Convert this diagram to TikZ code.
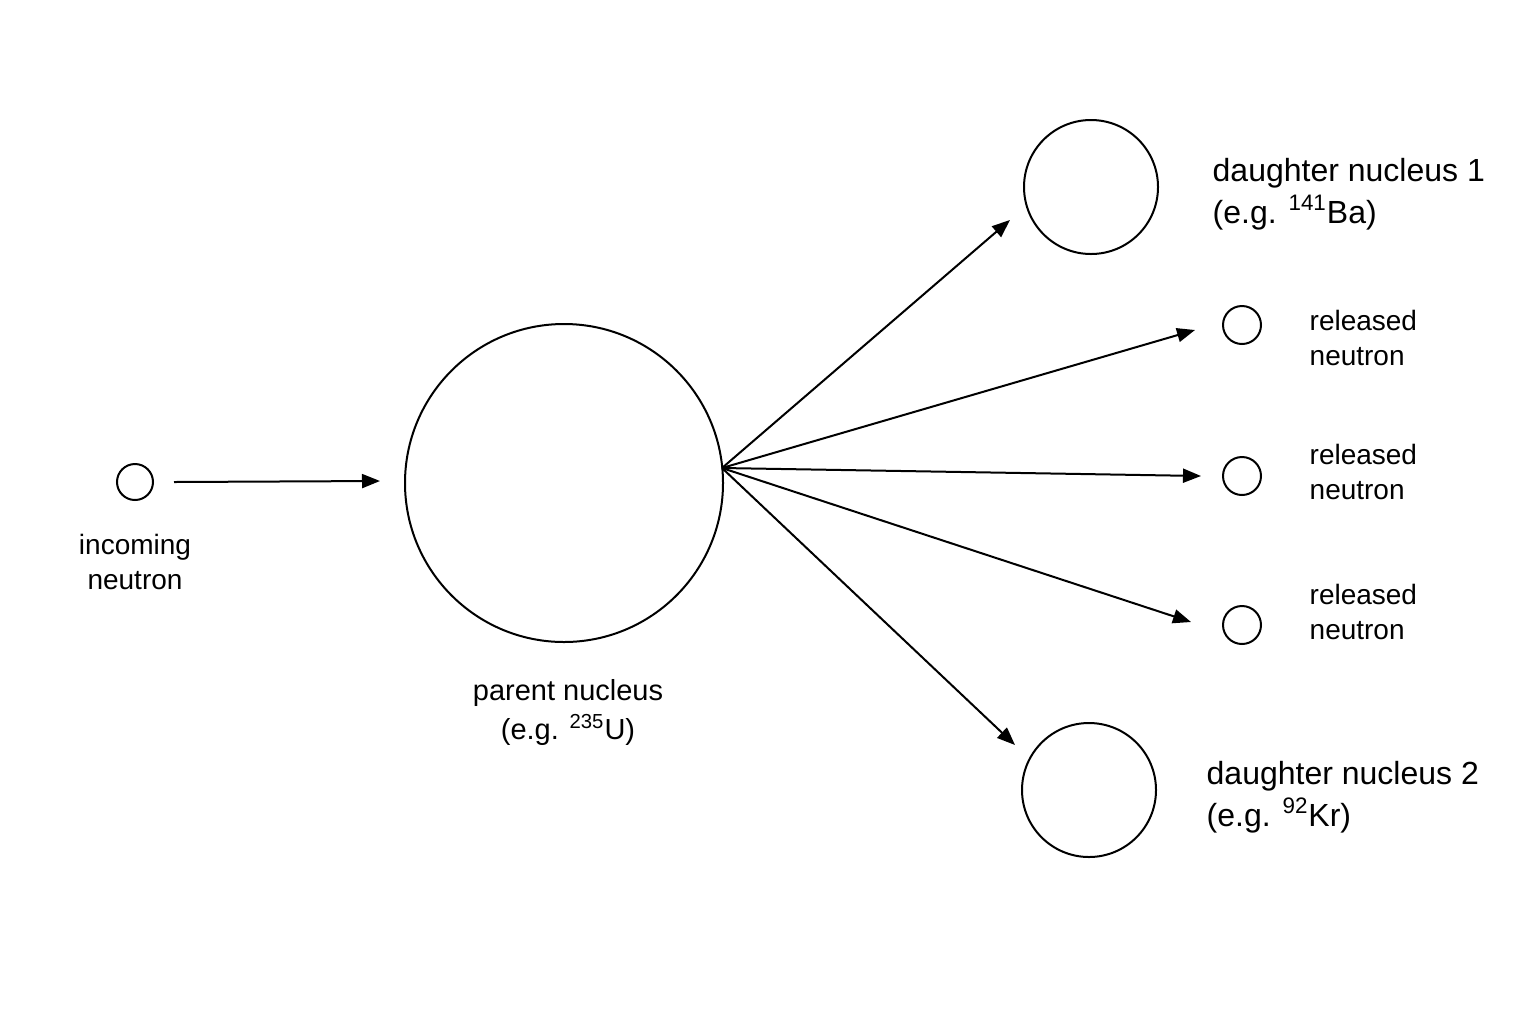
\documentclass[tikz,border=0pt]{standalone}
\usepackage{fontspec}
\setmainfont{Liberation Sans}
\usetikzlibrary{arrows.meta}
\tikzset{every picture/.style={line width=1pt}}
\tikzset{
  ball/.style={draw,circle,inner sep=0pt},
  arr/.style={-{Triangle[length=9pt,width=7pt]}},
  lbl/.style={align=left,anchor=west,font=\fontsize{15}{20}\selectfont},
  lblc/.style={align=center,font=\fontsize{14}{17.5}\selectfont},
}
\begin{document}
\begin{tikzpicture}[x=0.5pt,y=0.5pt,yscale=-1]
	\useasboundingbox (0,0) rectangle (1536,1024);

	%Nuclei
	\node [ball,minimum size=18pt] (inn) at (135,482) {};
	\node [ball,minimum size=159pt] (par) at (564,483) {};
	\node [ball,minimum size=67pt] (dn1) at (1091,187) {};
	\node [ball,minimum size=67pt] (dn2) at (1089,790) {};
	\node [ball,minimum size=19pt] (rn1) at (1242,325) {};
	\node [ball,minimum size=19pt] (rn2) at (1242,476) {};
	\node [ball,minimum size=19pt] (rn3) at (1242,625) {};

	%Arrow ends
	\coordinate (a0) at (380,481);
	\coordinate (s) at (722,468);
	\coordinate (a1) at (1010,220);
	\coordinate (a2) at (1195,330);
	\coordinate (a3) at (1201,476);
	\coordinate (a4) at (1191,622);
	\coordinate (a5) at (1015,745);

	\draw [arr] (inn.east) ++(10pt,0) -- (a0);
	\foreach \e in {a1,a2,a3,a4,a5}
		\draw [arr] (s) -- (\e);

	% Text Nodes
	\node [lblc] (tinn) at (135,562) {incoming\\neutron};
	\node [lblc,font=\fontsize{14.5}{19.5}\selectfont] (tpar) at (568,712) {parent nucleus\\(e.g. \textsuperscript{235}U)};
	\node [lbl,font=\fontsize{16}{21}\selectfont] (tdn1) at (1205,194) {daughter nucleus 1\\(e.g. \textsuperscript{141}Ba)};
	\node [lbl,font=\fontsize{16}{21}\selectfont] (tdn2) at (1199,797) {daughter nucleus 2\\(e.g. \textsuperscript{92}Kr)};
	\node [lbl,font=\fontsize{14}{17.5}\selectfont] (trn1) at (1302,338) {released\\neutron};
	\node [lbl,font=\fontsize{14}{17.5}\selectfont] (trn2) at (1302,472) {released\\neutron};
	\node [lbl,font=\fontsize{14}{17.5}\selectfont] (trn3) at (1302,612) {released\\neutron};
\end{tikzpicture}
\end{document}
